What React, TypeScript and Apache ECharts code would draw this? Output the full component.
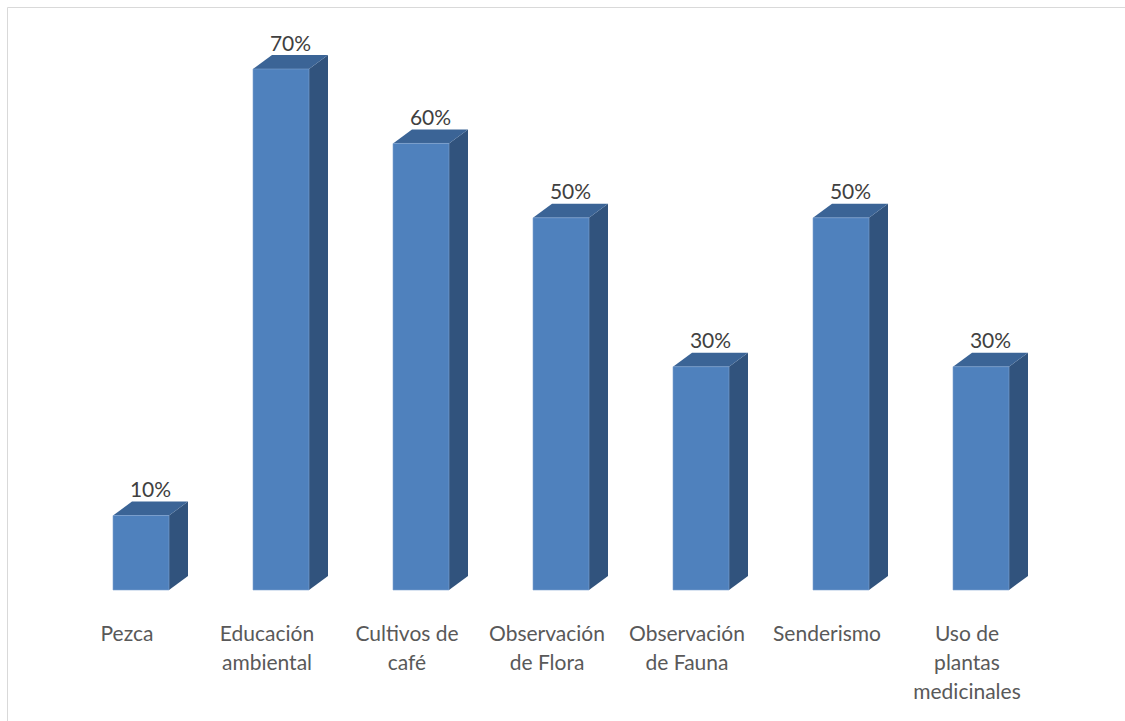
import React, { useEffect, useRef } from "react";
import * as echarts from "echarts";

const categories = [
  "Pezca",
  "Educación\nambiental",
  "Cultivos de\ncafé",
  "Observación\nde Flora",
  "Observación\nde Fauna",
  "Senderismo",
  "Uso de\nplantas\nmedicinales",
];
const values = [10, 70, 60, 50, 30, 50, 30];

const FRONT = "#4F81BD";
const TOP = "#3B6496";
const SIDE = "#31537D";

export default function App() {
  const ref = useRef<HTMLDivElement>(null);
  useEffect(() => {
    if (!ref.current) return;
    const chart = echarts.init(ref.current, undefined, { renderer: "svg" });
    const dx = 19;
    const dy = 14;
    const halfW = 28;
    const shift = 14;
    chart.setOption({
      animation: false,
      backgroundColor: "#ffffff",
      grid: { left: 57, width: 980, top: 69, bottom: 131 },
      xAxis: {
        type: "category",
        data: categories,
        axisLine: { show: false },
        axisTick: { show: false },
        splitLine: { show: false },
        axisLabel: {
          interval: 0,
          margin: 28,
          color: "#595959",
          fontFamily: "Lato, 'Liberation Sans', sans-serif",
          fontSize: 21,
          lineHeight: 29,
          align: "center",
        },
      },
      yAxis: {
        type: "value",
        min: 0,
        max: 70,
        show: false,
        splitLine: { show: false },
      },
      graphic: [
        {
          type: "rect",
          shape: { x: 7.5, y: 7.5, width: 1300, height: 900 },
          style: { fill: "none", stroke: "#D9D9D9", lineWidth: 1 },
          silent: true,
        },
      ],
      series: [
        {
          type: "custom",
          data: values.map((v, i) => [i, v]),
          renderItem: (params: any, api: any) => {
            const p = api.coord([api.value(0), api.value(1)]);
            const b = api.coord([api.value(0), 0]);
            const cx = p[0] + shift;
            const left = cx - halfW;
            const right = cx + halfW;
            const top = p[1];
            const bottom = b[1];
            return {
              type: "group",
              children: [
                {
                  type: "polygon",
                  shape: {
                    points: [
                      [right, top],
                      [right + dx, top - dy],
                      [right + dx, bottom - dy],
                      [right, bottom],
                    ],
                  },
                  style: { fill: SIDE },
                },
                {
                  type: "polygon",
                  shape: {
                    points: [
                      [left, top],
                      [left + dx, top - dy],
                      [right + dx, top - dy],
                      [right, top],
                    ],
                  },
                  style: { fill: TOP },
                },
                {
                  type: "rect",
                  shape: { x: left, y: top, width: halfW * 2, height: bottom - top },
                  style: { fill: FRONT, stroke: "#7EA3D2", lineWidth: 0.6 },
                },
                {
                  type: "text",
                  style: {
                    x: cx + dx / 2,
                    y: top - dy - 13,
                    text: api.value(1) + "%",
                    align: "center",
                    verticalAlign: "middle",
                    fill: "#404040",
                    fontSize: 21,
                    fontFamily: "Lato, 'Liberation Sans', sans-serif",
                  },
                },
              ],
            };
          },
        },
      ],
    });
    return () => chart.dispose();
  }, []);
  return (
    <div
      ref={ref}
      style={{ position: "absolute", left: 0, top: 0, width: 1125, height: 721 }}
    />
  );
}
